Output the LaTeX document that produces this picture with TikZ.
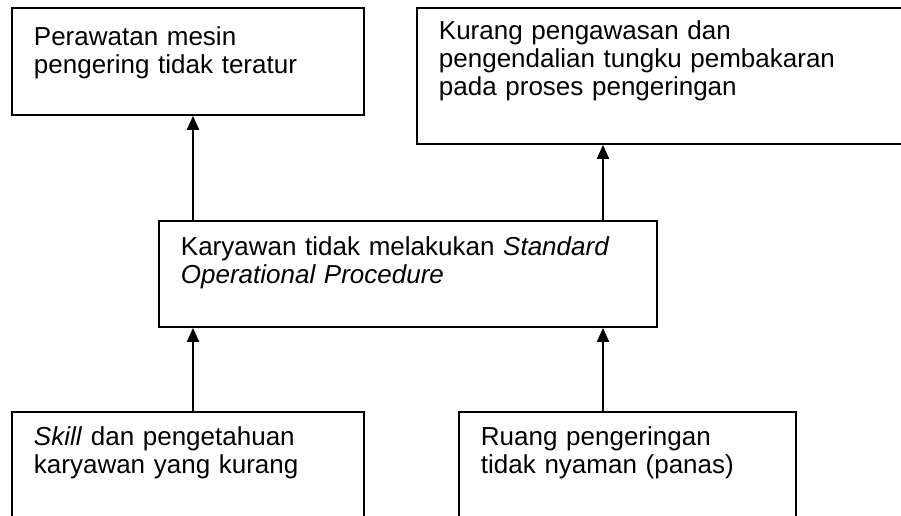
\documentclass[tikz,border=0pt]{standalone}
\usepackage{fontspec}
\setmainfont{Liberation Sans}
\usetikzlibrary{arrows.meta}
\tikzset{
  kotak/.style={draw,line width=1.4pt,anchor=north west,align=left,
    inner ysep=0pt,inner xsep=16.5pt,font=\fontsize{19.5pt}{21pt}\selectfont},
  panah/.style={line width=1.4pt,-{Triangle[length=10.5pt,width=9pt]}},
}
\begin{document}
\begin{tikzpicture}[x=0.75pt,y=-0.75pt]
\useasboundingbox (0,0) rectangle (901,515);
\clip (0,0) rectangle (901,515);
%---------------------------------------------------
\node[kotak,text width=231pt,text height=28.5pt,text depth=51.75pt] (rawat) at (11,7)
  {Perawatan mesin\\pengering tidak teratur};
\node[kotak,text width=357pt,text height=24pt,text depth=78pt] (awas) at (416,7)
  {Kurang pengawasan dan\\pengendalian tungku pembakaran\\pada proses pengeringan};
%---------------------------------------------------
\node[kotak,text width=340.5pt,text height=26.25pt,text depth=53.25pt] (sop) at (158,220)
  {Karyawan tidak melakukan \textit{Standard}\\\textit{Operational Procedure}};
%---------------------------------------------------
\node[kotak,text width=231pt,text height=25.5pt,text depth=150pt] (skill) at (11,411)
  {\textit{Skill} dan pengetahuan\\karyawan yang kurang};
\node[kotak,text width=219.75pt,text height=25.5pt,text depth=150pt] (ruang) at (458,411)
  {Ruang pengeringan\\tidak nyaman (panas)};
%---------------------------------------------------
\coordinate (kiri) at (193,0);
\coordinate (kanan) at (603,0);
\draw[panah] (sop.north -| kiri) -- (rawat.south -| kiri);
\draw[panah] (sop.north -| kanan) -- (awas.south -| kanan);
\draw[panah] (skill.north -| kiri) -- (sop.south -| kiri);
\draw[panah] (ruang.north -| kanan) -- (sop.south -| kanan);
\end{tikzpicture}
\end{document}
